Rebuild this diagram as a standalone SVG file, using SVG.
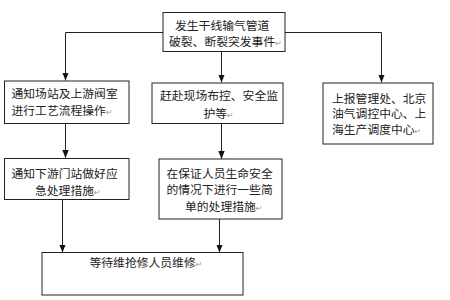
<svg xmlns="http://www.w3.org/2000/svg" width="450" height="300" viewBox="0 0 450 300">
<style>
.box{fill:#fff;stroke:#222;stroke-width:1}
.ln{fill:none;stroke:#222;stroke-width:1}
text{font-family:"Noto Sans CJK SC","Liberation Sans",sans-serif;font-size:11.8px;fill:#222}
.m{font-family:"DejaVu Sans",sans-serif;font-size:8px;fill:#999}
</style>
<defs>
<marker id="ah" viewBox="0 0 8 8" refX="8" refY="4" markerWidth="8" markerHeight="8" markerUnits="userSpaceOnUse" orient="auto">
<path d="M0,0.8 L8,4 L0,7.2 Z" fill="#111"/>
</marker>
</defs>
<rect width="450" height="300" fill="#fff"/>
<g id="connectors">
<path class="ln" d="M163,32.5 H65.5 V80.5" marker-end="url(#ah)"/>
<path class="ln" d="M221.5,52 V82.5" marker-end="url(#ah)"/>
<path class="ln" d="M285,32.5 H381.5 V82.5" marker-end="url(#ah)"/>
<path class="ln" d="M65.5,123.5 V158" marker-end="url(#ah)"/>
<path class="ln" d="M62.5,199.5 V252.5" marker-end="url(#ah)"/>
<path class="ln" d="M221.5,123.5 V159" marker-end="url(#ah)"/>
<path class="ln" d="M219.5,219 V252.5" marker-end="url(#ah)"/>
</g>
<g id="n1">
<rect class="box" x="163" y="12.5" width="122" height="39"/>
<text x="175" y="29.5">发生干线输气管道</text>
<text x="169" y="46">破裂、断裂突发事件<tspan class="m">↵</tspan></text>
</g>
<g id="n2">
<rect class="box" x="4.5" y="81" width="124.5" height="42.5"/>
<text x="11.5" y="98">通知场站及上游阀室</text>
<text x="11.5" y="114.5">进行工艺流程操作<tspan class="m">↵</tspan></text>
</g>
<g id="n3">
<rect class="box" x="152" y="83" width="131" height="40.5"/>
<text x="160" y="100">赶赴现场布控、安全监</text>
<text x="203.5" y="117.5">护等<tspan class="m">↵</tspan></text>
</g>
<g id="n4">
<rect class="box" x="323" y="83" width="110" height="61"/>
<text x="332" y="102.5">上报管理处、北京</text>
<text x="332" y="118">油气调控中心、上</text>
<text x="332" y="134">海生产调度中心<tspan class="m">↵</tspan></text>
</g>
<g id="n5">
<rect class="box" x="4.5" y="158.5" width="124.5" height="41"/>
<text x="11.5" y="178">通知下游门站做好应</text>
<text x="35" y="194.5">急处理措施<tspan class="m">↵</tspan></text>
</g>
<g id="n6">
<rect class="box" x="159" y="159" width="123" height="60"/>
<text x="166.5" y="178">在保证人员生命安全</text>
<text x="166.5" y="194">的情况下进行一些简</text>
<text x="185" y="211">单的处理措施<tspan class="m">↵</tspan></text>
</g>
<g id="n7">
<rect class="box" x="42" y="252.5" width="201" height="42.5"/>
<text x="89.5" y="266.5">等待维抢修人员维修<tspan class="m">↵</tspan></text>
</g>
</svg>
